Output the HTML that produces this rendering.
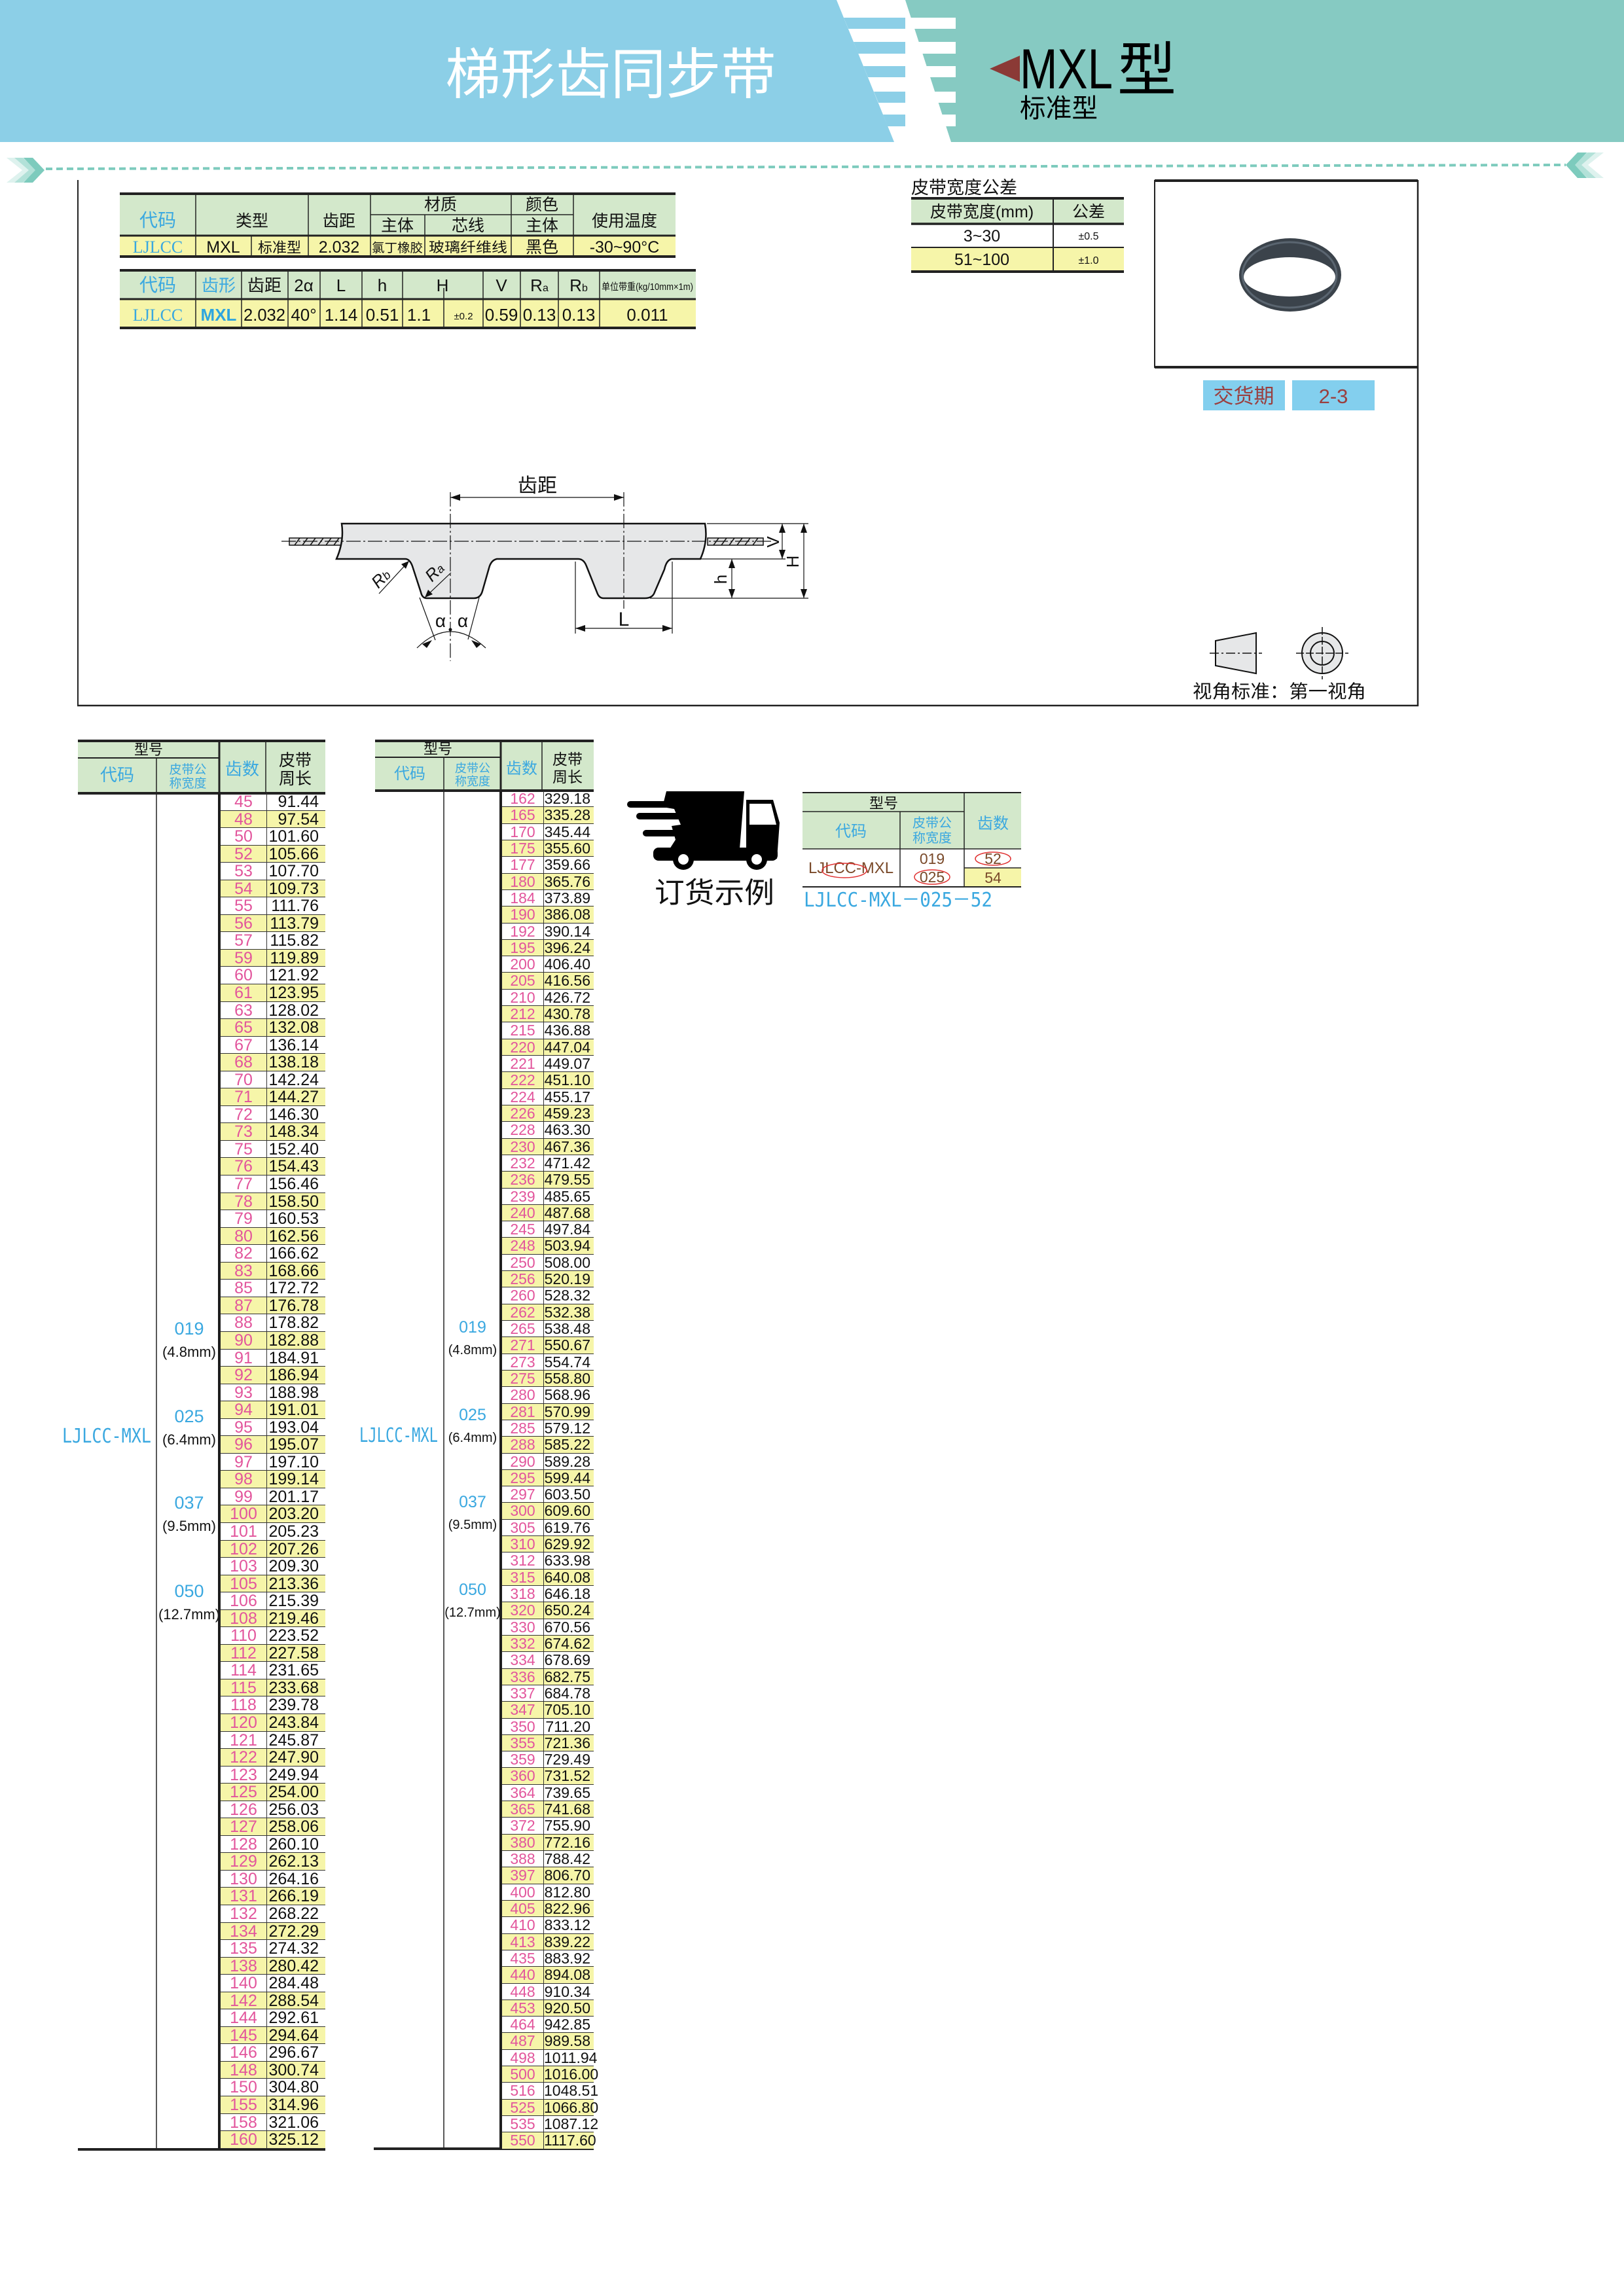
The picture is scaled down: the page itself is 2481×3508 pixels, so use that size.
<!DOCTYPE html>
<html><head><meta charset="utf-8">
<style>
html,body{margin:0;padding:0;background:#fff}
body{width:2481px;height:3508px;position:relative;overflow:hidden;font-family:"Liberation Sans","Noto Sans CJK SC",sans-serif}
svg{position:absolute;left:0;top:0}
.list{position:absolute;border-left:4px solid #1e1e1e;box-sizing:border-box}
.r{display:flex;box-sizing:border-box;border-bottom:1.5px solid #333;font-family:"Liberation Sans Narrow","Liberation Sans","Noto Sans CJK SC",sans-serif}
.r:nth-child(even){background:#f6f5a9}
.r b{font-weight:normal;color:#e2559c;text-align:center;border-right:1.5px solid #333;box-sizing:border-box}
.r i{font-style:normal;color:#111;text-align:right;box-sizing:border-box}
#L{left:333px;top:1212px;width:164px}
#L .r{height:26.56px;line-height:27px;font-size:25px}
#L b{width:71px}#L i{width:89px;padding-right:10px}
#R{left:763px;top:1208px;width:144px}
#R .r{height:25.32px;line-height:25px;font-size:23px}
#R b{width:64px}#R i{width:76px;padding-right:5px}
</style></head><body>
<svg width="2481" height="3508" viewBox="0 0 2481 3508" font-family="Liberation Sans, Noto Sans CJK SC, sans-serif">
<!-- header -->
<polygon points="1383,0 2481,0 2481,217 1453,217" fill="#86cac2"/>
<polygon points="0,0 1278,0 1366,217 0,217" fill="#8ccfe7"/>
<g fill="#8ccfe7">
<polygon points="1289,27 1383,27 1383,44 1296,44"/>
<polygon points="1304,64 1383,64 1383,82 1311,82"/>
<polygon points="1319,101 1383,101 1383,118 1326,118"/>
<polygon points="1335,140 1383,140 1383,157 1342,157"/>
<polygon points="1349,175 1383,175 1383,193 1356,193"/>
</g>
<g fill="#fff">
<rect x="1383" y="27" width="77" height="17"/><rect x="1383" y="64" width="77" height="18"/>
<rect x="1383" y="101" width="77" height="17"/><rect x="1383" y="140" width="77" height="17"/>
<rect x="1383" y="175" width="77" height="18"/>
</g>
<text x="933" y="143" font-size="84" fill="#fff" text-anchor="middle" textLength="505" lengthAdjust="spacingAndGlyphs">梯形齿同步带</text>
<polygon points="1558,85 1558,125 1512,105" fill="#8b3a36"/>
<text x="1558" y="135" font-size="86" fill="#000" textLength="142" lengthAdjust="spacingAndGlyphs">MXL</text>
<text x="1707" y="138" font-size="90" fill="#000">型</text>
<text x="1558" y="179" font-size="40" fill="#000" textLength="119" lengthAdjust="spacingAndGlyphs">标准型</text>
<!-- dotted line and chevrons -->
<line x1="70" y1="258" x2="2392" y2="252" stroke="#7dcbbd" stroke-width="4" stroke-dasharray="10 6"/>
<g fill="#7dcbbd">
<polygon points="10,241 34,241 58,260 34,279 10,279 34,260" opacity="0.25"/>
<polygon points="22,241 44,241 64,260 44,279 22,279 44,260" opacity="0.45"/>
<polygon points="36,241 50,241 68,260 50,279 36,279 54,260"/>
<polygon points="2450,233 2426,233 2402,252 2426,272 2450,272 2426,252" opacity="0.25"/>
<polygon points="2438,233 2416,233 2396,252 2416,272 2438,272 2416,252" opacity="0.45"/>
<polygon points="2424,233 2410,233 2392,252 2410,272 2424,272 2406,252"/>
</g>
<!-- main frame -->
<g stroke="#222" fill="none">
<line x1="119" y1="275" x2="119" y2="1079" stroke-width="2"/>
<line x1="118" y1="1078" x2="2167" y2="1078" stroke-width="2.5"/>
<line x1="2166" y1="275" x2="2166" y2="1079" stroke-width="2.5"/>
<rect x="1764" y="276" width="402" height="285" stroke-width="2"/>
<line x1="1764" y1="276" x2="2166" y2="276" stroke-width="4"/>
<line x1="1764" y1="561" x2="2166" y2="561" stroke-width="4"/>
</g>
<!-- belt ring -->
<ellipse cx="1971" cy="420" rx="78" ry="56" fill="#3b434b"/>
<ellipse cx="1970" cy="420" rx="72" ry="50" fill="none" stroke="#5a6570" stroke-width="3"/>
<ellipse cx="1970" cy="423" rx="70" ry="30" fill="#fff"/>
<!-- table 1 -->
<rect x="183" y="296" width="849" height="64" fill="#d3e8cb"/>
<rect x="183" y="360" width="849" height="32" fill="#f6f5a9"/>
<g stroke="#222">
<line x1="183" y1="296" x2="1032" y2="296" stroke-width="4"/>
<line x1="183" y1="360" x2="1032" y2="360" stroke-width="3"/>
<line x1="183" y1="392" x2="1032" y2="392" stroke-width="4"/>
<line x1="566" y1="328" x2="876" y2="328" stroke-width="1.5"/>
<g stroke-width="1.5">
<line x1="299" y1="296" x2="299" y2="392"/><line x1="471" y1="296" x2="471" y2="392"/>
<line x1="566" y1="296" x2="566" y2="392"/><line x1="781" y1="296" x2="781" y2="392"/>
<line x1="876" y1="296" x2="876" y2="392"/><line x1="649" y1="328" x2="649" y2="392"/>
<line x1="384" y1="360" x2="384" y2="392"/>
</g></g>
<g font-size="25" text-anchor="middle" fill="#111">
<text x="241" y="346" fill="#3aa8e0" font-size="28">代码</text>
<text x="385" y="346">类型</text><text x="518" y="346">齿距</text>
<text x="673" y="321">材质</text><text x="607" y="353">主体</text><text x="715" y="353">芯线</text>
<text x="828" y="321">颜色</text><text x="828" y="353">主体</text><text x="954" y="346">使用温度</text>
<text x="241" y="386" fill="#3aa8e0" font-family="Liberation Serif, serif" font-size="26">LJLCC</text>
<text x="341" y="386">MXL</text><text x="427" y="386" font-size="22">标准型</text>
<text x="518" y="386">2.032</text>
<text x="607" y="385" font-size="19" textLength="78" lengthAdjust="spacingAndGlyphs">氯丁橡胶</text>
<text x="715" y="385" font-size="21" textLength="120" lengthAdjust="spacingAndGlyphs">玻璃纤维线</text>
<text x="828" y="386">黑色</text><text x="954" y="386">-30~90°C</text>
</g>
<!-- table 2 -->
<rect x="183" y="413" width="880" height="44" fill="#d3e8cb"/>
<rect x="183" y="457" width="880" height="44" fill="#f6f5a9"/>
<g stroke="#222">
<line x1="183" y1="413" x2="1063" y2="413" stroke-width="4"/>
<line x1="183" y1="457" x2="1063" y2="457" stroke-width="3"/>
<line x1="183" y1="501" x2="1063" y2="501" stroke-width="4"/>
<g stroke-width="1.5">
<line x1="299" y1="413" x2="299" y2="501"/><line x1="369" y1="413" x2="369" y2="501"/>
<line x1="440" y1="413" x2="440" y2="501"/><line x1="489" y1="413" x2="489" y2="501"/>
<line x1="553" y1="413" x2="553" y2="501"/><line x1="615" y1="413" x2="615" y2="501"/>
<line x1="738" y1="413" x2="738" y2="501"/><line x1="795" y1="413" x2="795" y2="501"/>
<line x1="853" y1="413" x2="853" y2="501"/><line x1="916" y1="413" x2="916" y2="501"/>
<line x1="678" y1="440" x2="678" y2="501"/>
</g></g>
<g font-size="26" text-anchor="middle" fill="#111">
<text x="241" y="445" fill="#3aa8e0" font-size="28">代码</text>
<text x="334" y="445" fill="#3aa8e0">齿形</text><text x="404" y="445">齿距</text>
<text x="464" y="445">2α</text><text x="521" y="445">L</text><text x="584" y="445">h</text>
<text x="676" y="445">H</text><text x="766" y="445">V</text>
<text x="824" y="445">R<tspan font-size="16">a</tspan></text><text x="884" y="445">R<tspan font-size="16">b</tspan></text>
<text x="989" y="443" font-size="15" textLength="140" lengthAdjust="spacingAndGlyphs">单位带重(kg/10mm×1m)</text>
<text x="241" y="490" fill="#3aa8e0" font-family="Liberation Serif, serif">LJLCC</text>
<text x="334" y="490" fill="#2ea5df" font-weight="bold">MXL</text>
<text x="404" y="490" textLength="64" lengthAdjust="spacingAndGlyphs">2.032</text>
<text x="464" y="490">40°</text><text x="521" y="490">1.14</text><text x="584" y="490">0.51</text>
<text x="640" y="490">1.1</text><text x="708" y="488" font-size="15">±0.2</text>
<text x="766" y="490">0.59</text><text x="824" y="490">0.13</text><text x="884" y="490">0.13</text>
<text x="989" y="490">0.011</text>
</g>
<!-- tolerance table -->
<text x="1392" y="296" font-size="27" fill="#111">皮带宽度公差</text>
<rect x="1392" y="303" width="325" height="39" fill="#d3e8cb"/>
<rect x="1392" y="378" width="325" height="37" fill="#f6f5a9"/>
<g stroke="#222">
<line x1="1392" y1="303" x2="1717" y2="303" stroke-width="4"/>
<line x1="1392" y1="342" x2="1717" y2="342" stroke-width="3.5"/>
<line x1="1392" y1="378" x2="1717" y2="378" stroke-width="2"/>
<line x1="1392" y1="415" x2="1717" y2="415" stroke-width="4"/>
<line x1="1609" y1="303" x2="1609" y2="415" stroke-width="2"/>
</g>
<g text-anchor="middle" fill="#111" font-size="25">
<text x="1500" y="332">皮带宽度(mm)</text><text x="1663" y="332">公差</text>
<text x="1500" y="369">3~30</text><text x="1663" y="366" font-size="16">±0.5</text>
<text x="1500" y="405">51~100</text><text x="1663" y="403" font-size="16">±1.0</text>
</g>
<!-- delivery -->
<rect x="1838" y="581" width="125" height="46" fill="#83cfee"/>
<rect x="1974" y="581" width="126" height="46" fill="#83cfee"/>
<text x="1900" y="616" font-size="31" fill="#9a3f3f" text-anchor="middle">交货期</text>
<text x="2037" y="616" font-size="31" fill="#9a3f3f" text-anchor="middle">2-3</text>
<!-- view icons -->
<polygon points="1857,979 1919,967 1919,1029 1857,1017" fill="#e6e7e8" stroke="#111" stroke-width="2"/>
<line x1="1848" y1="998" x2="1928" y2="998" stroke="#111" stroke-width="1.5" stroke-dasharray="14 4 3 4"/>
<circle cx="2020" cy="998" r="31" fill="#e6e7e8" stroke="#111" stroke-width="2"/>
<circle cx="2020" cy="998" r="18" fill="#e6e7e8" stroke="#111" stroke-width="2"/>
<line x1="1980" y1="998" x2="2060" y2="998" stroke="#111" stroke-width="1.5" stroke-dasharray="12 3"/>
<line x1="2020" y1="958" x2="2020" y2="1038" stroke="#111" stroke-width="1.5" stroke-dasharray="12 3"/>
<text x="1822" y="1066" font-size="28" fill="#111" textLength="265" lengthAdjust="spacingAndGlyphs">视角标准：第一视角</text>
<!-- belt diagram -->
<g stroke="#111" fill="none" stroke-width="1.5">
<rect x="442" y="822" width="88" height="11" fill="#ddd"/>
<rect x="1081" y="822" width="85" height="11" fill="#ddd"/>
<path d="M450,833 l8,-11 M462,833 l8,-11 M474,833 l8,-11 M486,833 l8,-11 M498,833 l8,-11 M510,833 l8,-11 M1090,833 l8,-11 M1102,833 l8,-11 M1114,833 l8,-11 M1126,833 l8,-11 M1138,833 l8,-11 M1150,833 l8,-11"/>
</g>
<path d="M522,800 L1077,800 Q1082,827 1070,854 L1026,854 Q1018,856 1015,870 L1000,905 Q997,914 985,914 L922,914 Q915,914 912,905 L896,865 Q892,854 883,854 L759,854 Q750,856 747,868 L737,903 Q734,914 724,914 L652,914 Q645,914 643,905 L630,865 Q626,854 619,854 L514,854 Q526,827 522,800 Z" fill="#e6e7e8" stroke="#111" stroke-width="2.5"/>
<line x1="430" y1="827" x2="1180" y2="827" stroke="#111" stroke-width="1.2" stroke-dasharray="22 4 3 4"/>
<g stroke="#111" stroke-width="1.2" fill="none">
<line x1="688" y1="752" x2="688" y2="1010" stroke-dasharray="22 4 3 4"/>
<line x1="953" y1="752" x2="953" y2="930" stroke-dasharray="22 4 3 4"/>
<line x1="688" y1="760" x2="953" y2="760"/>
<line x1="1080" y1="800" x2="1235" y2="800"/>
<line x1="1070" y1="854" x2="1200" y2="854"/>
<line x1="993" y1="914" x2="1235" y2="914"/>
<line x1="1195" y1="800" x2="1195" y2="854"/>
<line x1="1228" y1="800" x2="1228" y2="914"/>
<line x1="1118" y1="854" x2="1118" y2="914"/>
<line x1="879" y1="858" x2="879" y2="968"/>
<line x1="1027" y1="858" x2="1027" y2="968"/>
<line x1="879" y1="960" x2="1027" y2="960"/>
<line x1="641" y1="913" x2="665" y2="978"/>
<line x1="732" y1="913" x2="715" y2="977"/>
<path d="M637,990 Q688,940 742,990"/>
<line x1="579" y1="907" x2="625" y2="857"/>
<line x1="649" y1="913" x2="689" y2="875"/>
</g>
<g fill="#111">
<polygon points="688,760 703,755 703,765"/><polygon points="953,760 938,755 938,765"/>
<polygon points="1195,800 1190,814 1200,814"/><polygon points="1195,854 1190,840 1200,840"/>
<polygon points="1228,800 1223,814 1233,814"/><polygon points="1228,914 1223,900 1233,900"/>
<polygon points="1118,854 1113,868 1123,868"/><polygon points="1118,914 1113,900 1123,900"/>
<polygon points="879,960 894,955 894,965"/><polygon points="1027,960 1012,955 1012,965"/>
<polygon points="625,857 613,862 620,869"/><polygon points="649,913 654,901 661,908"/>
<polygon points="660,978 645,984 652,990"/><polygon points="720,978 735,984 728,990"/>
<circle cx="688" cy="962" r="2.5"/>
</g>
<g fill="#111" font-size="30" text-anchor="middle">
<text x="821" y="752">齿距</text>
<text x="953" y="956">L</text>
<text x="673" y="958" font-size="28">α</text><text x="707" y="958" font-size="28">α</text>
<text transform="translate(1190,828) rotate(-90)" font-size="26">V</text>
<text transform="translate(1220,858) rotate(-90)" font-size="26">H</text>
<text transform="translate(1110,885) rotate(-90)" font-size="26">h</text>
<text transform="translate(588,890) rotate(-45)" font-size="26" font-style="italic">R<tspan font-size="18">b</tspan></text>
<text transform="translate(670,880) rotate(-45)" font-size="26" font-style="italic">R<tspan font-size="18">a</tspan></text>
</g>
<!-- long tables headers -->
<rect x="119" y="1132" width="378" height="80" fill="#d3e8cb"/>
<rect x="573" y="1132" width="334" height="76" fill="#d3e8cb"/>
<g stroke="#222">
<line x1="119" y1="1132" x2="497" y2="1132" stroke-width="4"/>
<line x1="119" y1="1158" x2="335" y2="1158" stroke-width="2"/>
<line x1="119" y1="1212" x2="497" y2="1212" stroke-width="4"/>
<line x1="239" y1="1158" x2="239" y2="3284" stroke-width="1.5"/>
<line x1="335" y1="1132" x2="335" y2="1212" stroke-width="3"/>
<line x1="406" y1="1132" x2="406" y2="1212" stroke-width="1.5"/>
<line x1="119" y1="3284" x2="497" y2="3284" stroke-width="4"/>
<line x1="573" y1="1132" x2="907" y2="1132" stroke-width="4"/>
<line x1="573" y1="1157" x2="766" y2="1157" stroke-width="2"/>
<line x1="573" y1="1208" x2="907" y2="1208" stroke-width="4"/>
<line x1="678" y1="1157" x2="678" y2="3284" stroke-width="1.5"/>
<line x1="765" y1="1132" x2="765" y2="1208" stroke-width="3"/>
<line x1="828" y1="1132" x2="828" y2="1208" stroke-width="1.5"/>
<line x1="571" y1="3283" x2="907" y2="3283" stroke-width="4"/>
</g>
<g text-anchor="middle" font-size="22">
<text x="227" y="1153" fill="#111">型号</text>
<text x="179" y="1193" fill="#3aa8e0" font-size="26">代码</text>
<text x="287" y="1182" fill="#3aa8e0" font-size="19">皮带公</text>
<text x="287" y="1203" fill="#3aa8e0" font-size="19">称宽度</text>
<text x="370" y="1184" fill="#3aa8e0" font-size="26">齿数</text>
<text x="451" y="1170" fill="#111" font-size="25">皮带</text>
<text x="451" y="1198" fill="#111" font-size="25">周长</text>
<text x="669" y="1152" fill="#111">型号</text>
<text x="626" y="1190" fill="#3aa8e0" font-size="24">代码</text>
<text x="722" y="1180" fill="#3aa8e0" font-size="18">皮带公</text>
<text x="722" y="1200" fill="#3aa8e0" font-size="18">称宽度</text>
<text x="797" y="1182" fill="#3aa8e0" font-size="24">齿数</text>
<text x="867" y="1168" fill="#111" font-size="23">皮带</text>
<text x="867" y="1195" fill="#111" font-size="23">周长</text>
</g>
<g text-anchor="middle" font-size="22" fill="#111">
<text x="163" y="2204" fill="#3aa8e0" font-size="30" font-family="DejaVu Sans Mono, monospace" textLength="136" lengthAdjust="spacingAndGlyphs">LJLCC-MXL</text>
<text x="289" y="2039" fill="#3aa8e0" font-size="27">019</text><text x="289" y="2073">(4.8mm)</text>
<text x="289" y="2173" fill="#3aa8e0" font-size="27">025</text><text x="289" y="2207">(6.4mm)</text>
<text x="289" y="2305" fill="#3aa8e0" font-size="27">037</text><text x="289" y="2339">(9.5mm)</text>
<text x="289" y="2440" fill="#3aa8e0" font-size="27">050</text><text x="289" y="2474">(12.7mm)</text>
<text x="609" y="2203" fill="#3aa8e0" font-size="30" font-family="DejaVu Sans Mono, monospace" textLength="120" lengthAdjust="spacingAndGlyphs">LJLCC-MXL</text>
<text x="722" y="2036" fill="#3aa8e0" font-size="25">019</text><text x="722" y="2069" font-size="20">(4.8mm)</text>
<text x="722" y="2170" fill="#3aa8e0" font-size="25">025</text><text x="722" y="2203" font-size="20">(6.4mm)</text>
<text x="722" y="2303" fill="#3aa8e0" font-size="25">037</text><text x="722" y="2336" font-size="20">(9.5mm)</text>
<text x="722" y="2437" fill="#3aa8e0" font-size="25">050</text><text x="722" y="2470" font-size="20">(12.7mm)</text>
</g>
<!-- truck -->
<g fill="#000">
<rect x="958" y="1224" width="84" height="10" rx="5"/>
<rect x="972" y="1242" width="84" height="10" rx="5"/>
<rect x="982" y="1268" width="60" height="10" rx="5"/>
<polygon points="1018,1209 1137,1209 1130,1297 1023,1297 1032,1283 1026,1262 1040,1260 1030,1236 1012,1233"/>
<polygon points="1140,1222 1181,1222 1191,1257 1187,1312 1140,1312"/>
<rect x="998" y="1295" width="190" height="20" rx="8"/>
<circle cx="1044" cy="1313" r="16"/><circle cx="1156" cy="1313" r="16"/>
</g>
<polygon points="1145,1228 1178,1228 1186,1260 1145,1260" fill="#fff"/>
<circle cx="1044" cy="1313" r="8" fill="#fff"/><circle cx="1156" cy="1313" r="8" fill="#fff"/>
<text x="1000" y="1379" font-size="44" fill="#111" textLength="183" lengthAdjust="spacingAndGlyphs">订货示例</text>
<!-- order table -->
<rect x="1226" y="1211" width="334" height="86" fill="#d3e8cb"/>
<rect x="1473" y="1326" width="87" height="29" fill="#f6f5a9"/>
<g stroke="#222">
<line x1="1226" y1="1211" x2="1560" y2="1211" stroke-width="2"/>
<line x1="1226" y1="1240" x2="1473" y2="1240" stroke-width="1.5"/>
<line x1="1226" y1="1297" x2="1560" y2="1297" stroke-width="1.5"/>
<line x1="1473" y1="1326" x2="1560" y2="1326" stroke-width="1.5"/>
<line x1="1226" y1="1355" x2="1560" y2="1355" stroke-width="2"/>
<line x1="1375" y1="1240" x2="1375" y2="1355" stroke-width="1.5"/>
<line x1="1473" y1="1211" x2="1473" y2="1355" stroke-width="1.5"/>
</g>
<g text-anchor="middle" font-size="22">
<text x="1350" y="1235" fill="#111">型号</text>
<text x="1300" y="1278" fill="#3aa8e0" font-size="24">代码</text>
<text x="1424" y="1264" fill="#3aa8e0" font-size="20">皮带公</text>
<text x="1424" y="1287" fill="#3aa8e0" font-size="20">称宽度</text>
<text x="1517" y="1266" fill="#3aa8e0" font-size="24">齿数</text>
<text x="1300" y="1334" fill="#7a4a2a" font-size="24" textLength="130" lengthAdjust="spacingAndGlyphs">LJLCC-MXL</text>
<text x="1424" y="1320" fill="#7a4a2a" font-size="23">019</text>
<text x="1424" y="1348" fill="#7a4a2a" font-size="23">025</text>
<text x="1517" y="1320" fill="#7a4a2a" font-size="23">52</text>
<text x="1517" y="1349" fill="#7a4a2a" font-size="23">54</text>
</g>
<g fill="none" stroke="#e03030" stroke-width="1.5">
<ellipse cx="1290" cy="1330" rx="34" ry="11"/>
<ellipse cx="1424" cy="1340" rx="27" ry="11"/>
<ellipse cx="1517" cy="1312" rx="27" ry="10"/>
</g>
<text x="1228" y="1385" font-size="30" fill="#3aa8e0" font-family="DejaVu Sans Mono, Liberation Mono, Noto Sans CJK SC, monospace" textLength="288" lengthAdjust="spacingAndGlyphs">LJLCC-MXL－025－52</text>
</svg>

<div class="list" id="L">
<div class="r"><b>45</b><i>91.44</i></div><div class="r"><b>48</b><i>97.54</i></div><div class="r"><b>50</b><i>101.60</i></div><div class="r"><b>52</b><i>105.66</i></div><div class="r"><b>53</b><i>107.70</i></div><div class="r"><b>54</b><i>109.73</i></div><div class="r"><b>55</b><i>111.76</i></div><div class="r"><b>56</b><i>113.79</i></div><div class="r"><b>57</b><i>115.82</i></div><div class="r"><b>59</b><i>119.89</i></div>
<div class="r"><b>60</b><i>121.92</i></div><div class="r"><b>61</b><i>123.95</i></div><div class="r"><b>63</b><i>128.02</i></div><div class="r"><b>65</b><i>132.08</i></div><div class="r"><b>67</b><i>136.14</i></div><div class="r"><b>68</b><i>138.18</i></div><div class="r"><b>70</b><i>142.24</i></div><div class="r"><b>71</b><i>144.27</i></div><div class="r"><b>72</b><i>146.30</i></div><div class="r"><b>73</b><i>148.34</i></div>
<div class="r"><b>75</b><i>152.40</i></div><div class="r"><b>76</b><i>154.43</i></div><div class="r"><b>77</b><i>156.46</i></div><div class="r"><b>78</b><i>158.50</i></div><div class="r"><b>79</b><i>160.53</i></div><div class="r"><b>80</b><i>162.56</i></div><div class="r"><b>82</b><i>166.62</i></div><div class="r"><b>83</b><i>168.66</i></div><div class="r"><b>85</b><i>172.72</i></div><div class="r"><b>87</b><i>176.78</i></div>
<div class="r"><b>88</b><i>178.82</i></div><div class="r"><b>90</b><i>182.88</i></div><div class="r"><b>91</b><i>184.91</i></div><div class="r"><b>92</b><i>186.94</i></div><div class="r"><b>93</b><i>188.98</i></div><div class="r"><b>94</b><i>191.01</i></div><div class="r"><b>95</b><i>193.04</i></div><div class="r"><b>96</b><i>195.07</i></div><div class="r"><b>97</b><i>197.10</i></div><div class="r"><b>98</b><i>199.14</i></div>
<div class="r"><b>99</b><i>201.17</i></div><div class="r"><b>100</b><i>203.20</i></div><div class="r"><b>101</b><i>205.23</i></div><div class="r"><b>102</b><i>207.26</i></div><div class="r"><b>103</b><i>209.30</i></div><div class="r"><b>105</b><i>213.36</i></div><div class="r"><b>106</b><i>215.39</i></div><div class="r"><b>108</b><i>219.46</i></div><div class="r"><b>110</b><i>223.52</i></div><div class="r"><b>112</b><i>227.58</i></div>
<div class="r"><b>114</b><i>231.65</i></div><div class="r"><b>115</b><i>233.68</i></div><div class="r"><b>118</b><i>239.78</i></div><div class="r"><b>120</b><i>243.84</i></div><div class="r"><b>121</b><i>245.87</i></div><div class="r"><b>122</b><i>247.90</i></div><div class="r"><b>123</b><i>249.94</i></div><div class="r"><b>125</b><i>254.00</i></div><div class="r"><b>126</b><i>256.03</i></div><div class="r"><b>127</b><i>258.06</i></div>
<div class="r"><b>128</b><i>260.10</i></div><div class="r"><b>129</b><i>262.13</i></div><div class="r"><b>130</b><i>264.16</i></div><div class="r"><b>131</b><i>266.19</i></div><div class="r"><b>132</b><i>268.22</i></div><div class="r"><b>134</b><i>272.29</i></div><div class="r"><b>135</b><i>274.32</i></div><div class="r"><b>138</b><i>280.42</i></div><div class="r"><b>140</b><i>284.48</i></div><div class="r"><b>142</b><i>288.54</i></div>
<div class="r"><b>144</b><i>292.61</i></div><div class="r"><b>145</b><i>294.64</i></div><div class="r"><b>146</b><i>296.67</i></div><div class="r"><b>148</b><i>300.74</i></div><div class="r"><b>150</b><i>304.80</i></div><div class="r"><b>155</b><i>314.96</i></div><div class="r"><b>158</b><i>321.06</i></div><div class="r"><b>160</b><i>325.12</i></div>
</div>

<div class="list" id="R">
<div class="r"><b>162</b><i>329.18</i></div><div class="r"><b>165</b><i>335.28</i></div><div class="r"><b>170</b><i>345.44</i></div><div class="r"><b>175</b><i>355.60</i></div><div class="r"><b>177</b><i>359.66</i></div><div class="r"><b>180</b><i>365.76</i></div><div class="r"><b>184</b><i>373.89</i></div><div class="r"><b>190</b><i>386.08</i></div><div class="r"><b>192</b><i>390.14</i></div><div class="r"><b>195</b><i>396.24</i></div>
<div class="r"><b>200</b><i>406.40</i></div><div class="r"><b>205</b><i>416.56</i></div><div class="r"><b>210</b><i>426.72</i></div><div class="r"><b>212</b><i>430.78</i></div><div class="r"><b>215</b><i>436.88</i></div><div class="r"><b>220</b><i>447.04</i></div><div class="r"><b>221</b><i>449.07</i></div><div class="r"><b>222</b><i>451.10</i></div><div class="r"><b>224</b><i>455.17</i></div><div class="r"><b>226</b><i>459.23</i></div>
<div class="r"><b>228</b><i>463.30</i></div><div class="r"><b>230</b><i>467.36</i></div><div class="r"><b>232</b><i>471.42</i></div><div class="r"><b>236</b><i>479.55</i></div><div class="r"><b>239</b><i>485.65</i></div><div class="r"><b>240</b><i>487.68</i></div><div class="r"><b>245</b><i>497.84</i></div><div class="r"><b>248</b><i>503.94</i></div><div class="r"><b>250</b><i>508.00</i></div><div class="r"><b>256</b><i>520.19</i></div>
<div class="r"><b>260</b><i>528.32</i></div><div class="r"><b>262</b><i>532.38</i></div><div class="r"><b>265</b><i>538.48</i></div><div class="r"><b>271</b><i>550.67</i></div><div class="r"><b>273</b><i>554.74</i></div><div class="r"><b>275</b><i>558.80</i></div><div class="r"><b>280</b><i>568.96</i></div><div class="r"><b>281</b><i>570.99</i></div><div class="r"><b>285</b><i>579.12</i></div><div class="r"><b>288</b><i>585.22</i></div>
<div class="r"><b>290</b><i>589.28</i></div><div class="r"><b>295</b><i>599.44</i></div><div class="r"><b>297</b><i>603.50</i></div><div class="r"><b>300</b><i>609.60</i></div><div class="r"><b>305</b><i>619.76</i></div><div class="r"><b>310</b><i>629.92</i></div><div class="r"><b>312</b><i>633.98</i></div><div class="r"><b>315</b><i>640.08</i></div><div class="r"><b>318</b><i>646.18</i></div><div class="r"><b>320</b><i>650.24</i></div>
<div class="r"><b>330</b><i>670.56</i></div><div class="r"><b>332</b><i>674.62</i></div><div class="r"><b>334</b><i>678.69</i></div><div class="r"><b>336</b><i>682.75</i></div><div class="r"><b>337</b><i>684.78</i></div><div class="r"><b>347</b><i>705.10</i></div><div class="r"><b>350</b><i>711.20</i></div><div class="r"><b>355</b><i>721.36</i></div><div class="r"><b>359</b><i>729.49</i></div><div class="r"><b>360</b><i>731.52</i></div>
<div class="r"><b>364</b><i>739.65</i></div><div class="r"><b>365</b><i>741.68</i></div><div class="r"><b>372</b><i>755.90</i></div><div class="r"><b>380</b><i>772.16</i></div><div class="r"><b>388</b><i>788.42</i></div><div class="r"><b>397</b><i>806.70</i></div><div class="r"><b>400</b><i>812.80</i></div><div class="r"><b>405</b><i>822.96</i></div><div class="r"><b>410</b><i>833.12</i></div><div class="r"><b>413</b><i>839.22</i></div>
<div class="r"><b>435</b><i>883.92</i></div><div class="r"><b>440</b><i>894.08</i></div><div class="r"><b>448</b><i>910.34</i></div><div class="r"><b>453</b><i>920.50</i></div><div class="r"><b>464</b><i>942.85</i></div><div class="r"><b>487</b><i>989.58</i></div><div class="r"><b>498</b><i>1011.94</i></div><div class="r"><b>500</b><i>1016.00</i></div><div class="r"><b>516</b><i>1048.51</i></div><div class="r"><b>525</b><i>1066.80</i></div>
<div class="r"><b>535</b><i>1087.12</i></div><div class="r"><b>550</b><i>1117.60</i></div>
</div>
</body></html>
